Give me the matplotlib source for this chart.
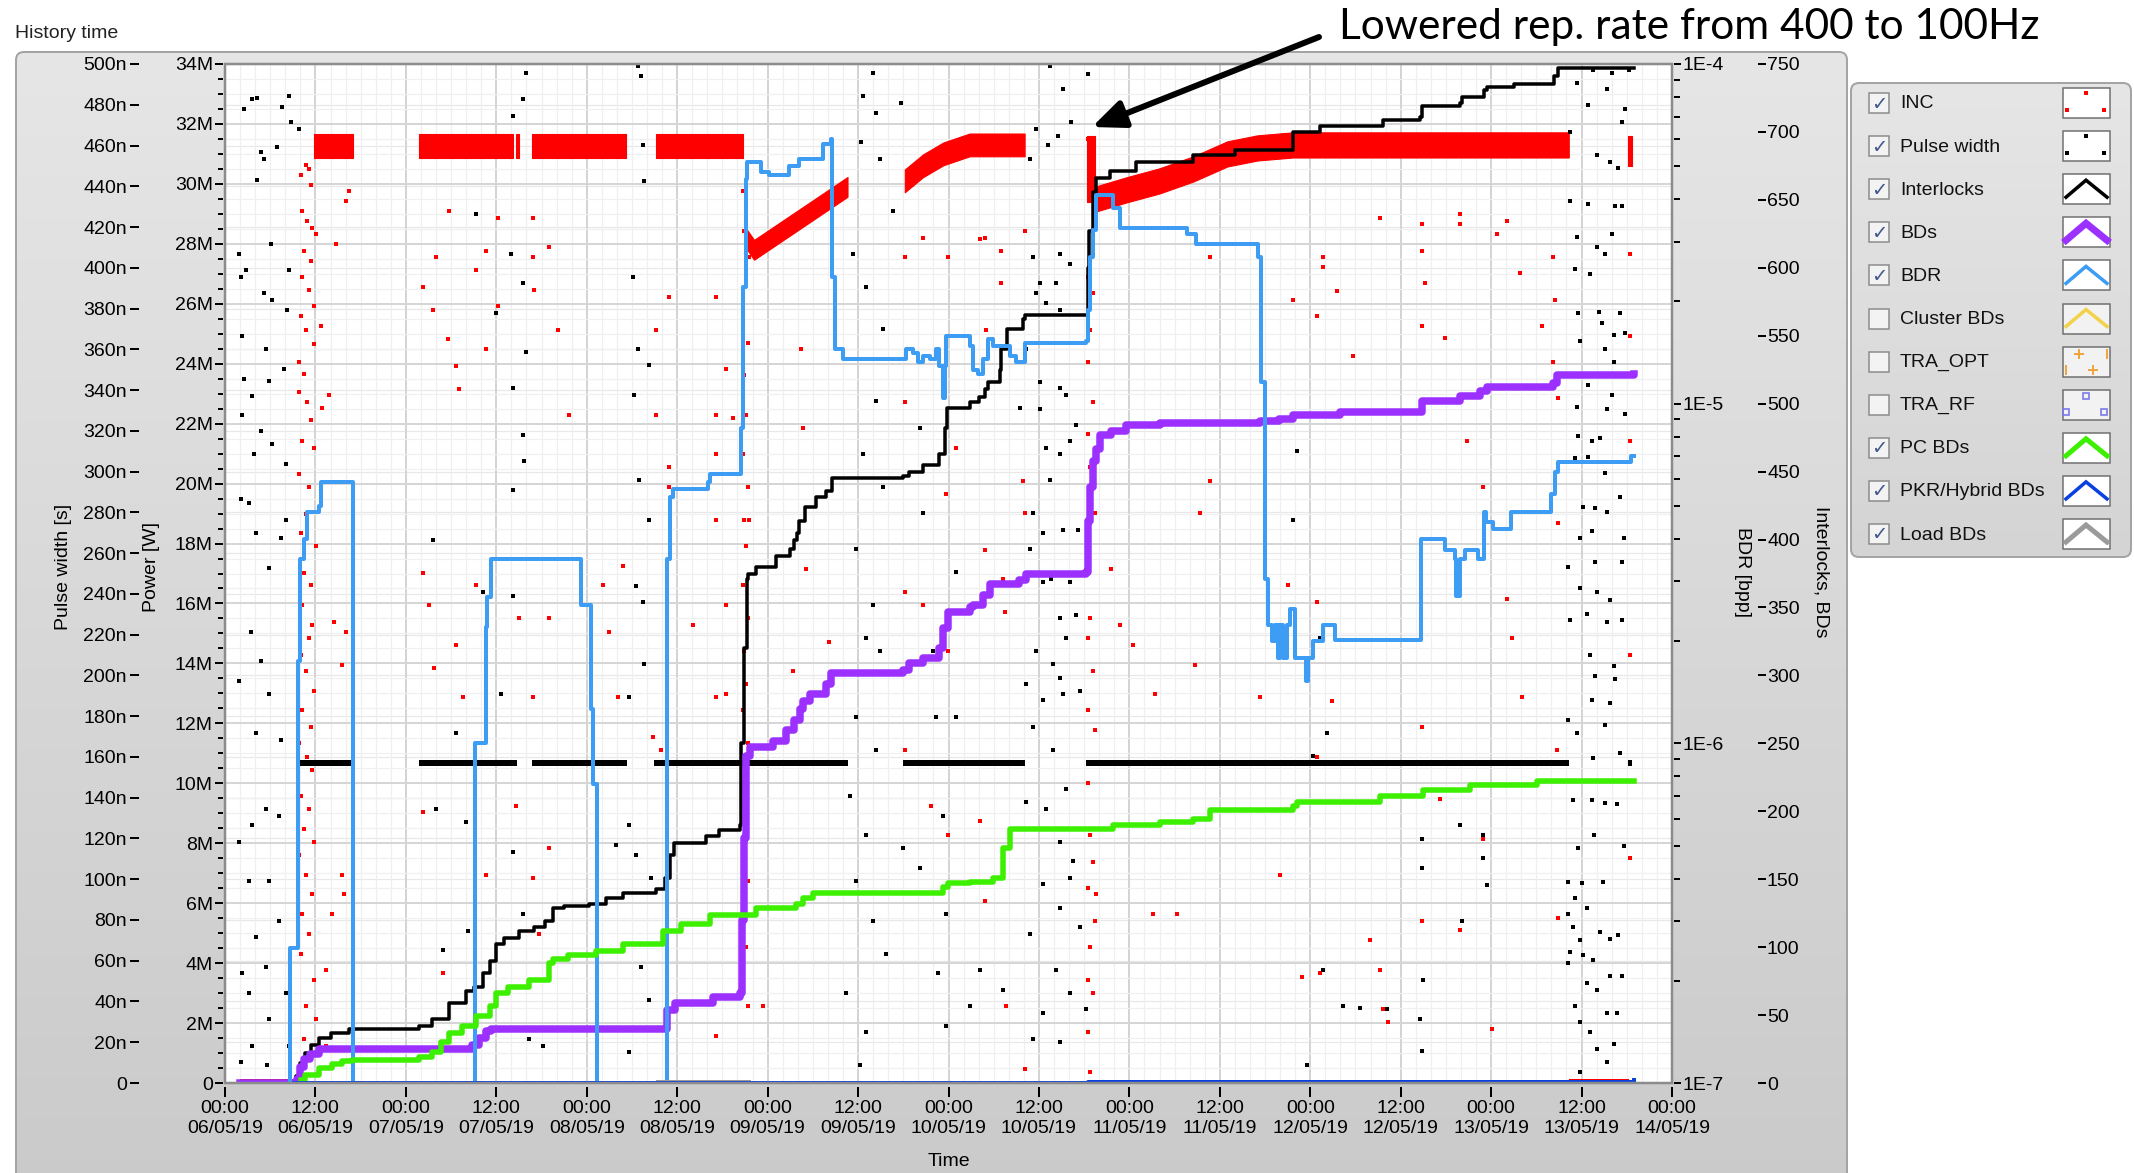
import numpy as np
import matplotlib
matplotlib.use("Agg")
import matplotlib.pyplot as plt
from matplotlib.patches import FancyBboxPatch, Rectangle
from matplotlib.ticker import FixedLocator, FuncFormatter, NullFormatter, LogLocator

plt.rcParams['font.family'] = ['Liberation Sans', 'DejaVu Sans']

# ---------------------------------------------------------------- data
# time axis: hours since 06/05/19 00:00
xtick_hours = list(range(0, 193, 12))
xtick_labels = ['00:00\n06/05/19', '12:00\n06/05/19', '00:00\n07/05/19', '12:00\n07/05/19',
                '00:00\n08/05/19', '12:00\n08/05/19', '00:00\n09/05/19', '12:00\n09/05/19',
                '00:00\n10/05/19', '12:00\n10/05/19', '00:00\n11/05/19', '12:00\n11/05/19',
                '00:00\n12/05/19', '12:00\n12/05/19', '00:00\n13/05/19', '12:00\n13/05/19',
                '00:00\n14/05/19']

# Interlocks (counts, right axis)
interlock_t = [2.0, 9.4, 10.0, 10.6, 11.4, 12.5, 14.0, 16.5, 25.8, 27.5, 29.7, 32.0, 33.1, 34.2, 35.1,
               35.9, 37.0, 39.0, 41.0, 42.5, 43.5, 45.0, 48.3, 50.5, 52.8, 57.2, 58.4, 59.0, 59.6, 63.8,
               65.5, 68.3, 68.5, 68.8, 69.2, 69.4, 70.5, 73.1, 75.0, 75.5, 75.9, 76.2, 76.9, 78.4, 79.8,
               80.6, 89.9, 90.8, 92.6, 94.8, 95.5, 95.8, 98.8, 100.0, 100.8, 101.2, 102.8, 103.0, 103.7,
               105.9, 106.1, 114.5, 114.7, 115.2, 115.6, 117.4, 120.9, 128.5, 134.0, 141.7, 145.3, 153.7,
               158.6, 158.8, 163.9, 164.1, 167.0, 167.4, 171.0, 176.3, 176.9, 186.9]
interlock_n = [0, 5, 15, 22, 28, 33, 37, 40, 42, 47, 59, 68, 71, 81, 90,
               102, 107, 112, 115, 119, 129, 130, 132, 136, 140, 143, 151, 168, 177, 182,
               186, 190, 250, 320, 371, 375, 380, 388, 393, 400, 405, 414, 424, 431, 436,
               445, 447, 450, 455, 463, 482, 497, 501, 505, 511, 516, 525, 540, 555,
               562, 565, 600, 627, 656, 666, 671, 678, 683, 687, 700, 704, 709,
               711, 719, 721, 726, 731, 733, 735, 741, 747, 747]

# BDs (counts, right axis)
bds_t = [2.0, 9.6, 10.0, 10.5, 11.3, 12.5, 32.8, 33.7, 34.6, 35.3, 58.5, 58.7, 59.7, 64.7, 68.3, 68.6,
         68.8, 69.1, 69.6, 72.7, 74.5, 75.5, 76.3, 76.7, 77.6, 79.8, 80.4, 89.9, 90.8, 92.6, 94.8, 95.3,
         95.9, 98.8, 99.3, 100.6, 101.5, 105.4, 106.3, 114.3, 114.5, 114.8, 115.2, 115.6, 116.1, 117.6,
         119.6, 124.0, 137.3, 139.9, 141.7, 147.9, 158.3, 158.8, 163.9, 166.5, 167.4, 176.2, 176.7, 186.9]
bds_n = [0, 3, 12, 18, 21, 25, 28, 33, 38, 40, 40, 54, 59, 63, 66, 120,
         180, 241, 247, 252, 260, 267, 275, 281, 286, 294, 302, 304, 309, 313, 320, 335,
         347, 350, 352, 359, 367, 370, 375, 376, 414, 439, 458, 467, 477, 480,
         484, 486, 487, 489, 492, 494, 494, 502, 506, 509, 512, 515, 521, 522]

# PC BDs (counts, right axis)
pc_t = [10.1, 10.6, 12.5, 14.2, 15.5, 16.9, 25.8, 27.5, 28.6, 29.7, 31.4, 33.3, 35.1, 35.9, 37.5, 40.4,
        43.0, 43.5, 45.5, 49.2, 52.8, 58.1, 60.5, 64.3, 70.5, 75.8, 76.7, 78.0, 92.6, 95.3, 95.9, 98.8,
        101.9, 103.2, 104.1, 117.8, 124.0, 128.5, 130.7, 141.7, 142.2, 153.2, 159.0, 165.2, 174.1, 186.9]
pc_n = [2, 6, 11, 14, 16, 17, 19, 23, 30, 37, 42, 49, 57, 66, 71, 76,
        88, 91, 94, 97, 102, 112, 117, 124, 129, 132, 136, 140, 140, 144, 147, 148,
        151, 173, 187, 190, 192, 194, 201, 204, 207, 211, 216, 219, 222, 222]

# PKR/Hybrid BDs and Load BDs (counts, right axis)
pkr_t = [9.2, 114.5, 181.0, 186.9]
pkr_n = [0, 1, 1, 2]
load_t = [57.5, 69.5]
load_n = [1, 1]

# BDR [bpp] (log axis); 0 = no breakdowns
bdr_t = [2.0, 8.63, 9.74, 10.0, 10.5, 10.9, 12.5, 12.7, 17.0, 33.2, 34.6, 34.8, 35.3, 47.2, 48.6, 48.8,
         49.3, 58.7, 59.0, 59.4, 64.05, 64.3, 68.5, 68.7, 69.1, 69.3, 71.1, 72.2, 74.9, 76.2, 79.3, 80.4,
         80.6, 81.0, 82.0, 90.4, 91.3, 91.9, 92.6, 93.5, 94.4, 94.8, 95.3, 95.5, 95.7, 98.8, 99.3, 99.9,
         100.6, 101.2, 101.9, 104.1, 105.0, 106.1, 114.3, 114.5, 114.75, 115.2, 115.6, 117.8, 118.7,
         127.6, 128.9, 137.1, 137.5, 138.0, 138.4, 138.9, 139.3, 139.76, 139.98, 140.42, 140.86, 141.3,
         142.0, 143.5, 143.7, 144.4, 145.7, 147.3, 158.7, 161.9, 163.2, 163.4, 163.9, 164.5, 166.3,
         167.1, 167.3, 168.3, 170.7, 176.0, 176.5, 176.9, 186.5, 186.9]
bdr_v = [0, 2.5e-7, 1.75e-6, 3.5e-6, 4.0e-6, 4.8e-6, 5.0e-6, 5.9e-6, 0, 1.0e-6, 2.2e-6, 2.7e-6, 3.5e-6,
         2.55e-6, 1.26e-6, 7.6e-7,
         0, 3.5e-6, 5.3e-6, 5.6e-6, 5.9e-6, 6.2e-6, 8.5e-6, 2.2e-5, 4.6e-5, 5.15e-5, 4.8e-5, 4.7e-5,
         5.0e-5, 5.25e-5, 5.8e-5, 6.0e-5,
         2.36e-5, 1.45e-5, 1.35e-5, 1.45e-5, 1.41e-5, 1.33e-5, 1.38e-5, 1.35e-5, 1.45e-5, 1.29e-5,
         1.04e-5, 1.29e-5, 1.58e-5, 1.48e-5, 1.26e-5, 1.22e-5,
         1.35e-5, 1.55e-5, 1.48e-5, 1.38e-5, 1.33e-5, 1.51e-5, 1.53e-5, 1.89e-5, 2.7e-5, 3.24e-5,
         4.11e-5, 3.78e-5, 3.3e-5,
         3.16e-5, 2.95e-5, 2.7e-5, 1.16e-5, 3.05e-6, 2.23e-6, 2.0e-6, 2.23e-6, 1.78e-6, 2.23e-6,
         1.78e-6, 2.23e-6, 2.49e-6,
         1.78e-6, 1.53e-6, 1.78e-6, 2.0e-6, 2.23e-6, 2.02e-6, 4.0e-6, 3.72e-6, 3.49e-6, 2.72e-6,
         3.49e-6, 3.72e-6, 3.49e-6,
         4.79e-6, 4.47e-6, 4.27e-6, 4.79e-6, 5.42e-6, 6.3e-6, 6.73e-6, 7.03e-6, 7.03e-6]

# INC power [MW]: dense bands (time, level, half-spread)
inc_band_t = [[11.8, 17.0], [25.8, 38.2], [38.6, 39.0], [40.8, 53.2], [57.2, 68.7], [69.1, 70.2, 82.6],
              [90.2, 92.6, 95.3, 98.8, 106.1], [114.4, 115.5],
              [115.6, 119.6, 124.0, 128.5, 133.0, 137.0, 141.7, 178.3], [186.2, 186.7]]
inc_band_mw = [[31.25, 31.25], [31.25, 31.25], [31.25, 31.25], [31.25, 31.25], [31.25, 31.25],
               [28.2, 27.8, 29.9], [30.1, 30.6, 31.0, 31.3, 31.3], [30.5, 30.5],
               [29.5, 29.8, 30.1, 30.5, 31.0, 31.2, 31.3, 31.3], [31.1, 31.1]]
inc_band_spread = [0.4, 0.4, 0.4, 0.4, 0.4, 0.33, 0.38, 1.1, 0.42, 0.5]
inc_zero_t = [[2.0, 9.5], [178.3, 186.3]]

# INC scattered samples [h, MW]
inc_dots = [
    (10.05, 30.29), (10.71, 30.62), (11.16, 30.51), (11.38, 29.97), (10.27, 29.09), (10.93, 28.76),
    (11.60, 28.54), (12.04, 28.32), (10.49, 27.77), (11.38, 27.44), (10.27, 26.90), (11.16, 26.46),
    (11.82, 25.91), (10.05, 25.58), (10.80, 25.14), (11.82, 24.66), (9.83, 24.05), (10.49, 23.65),
    (9.83, 23.06), (10.93, 22.73), (11.38, 22.12), (10.27, 21.42), (11.82, 21.20), (9.83, 20.32),
    (11.16, 19.88), (10.71, 19.00), (10.05, 18.35), (12.04, 17.91), (10.49, 17.03), (11.38, 16.60),
    (10.27, 15.94), (11.60, 15.28), (11.16, 14.84), (10.05, 14.29), (10.71, 13.74), (11.82, 13.09),
    (10.27, 12.43), (11.38, 11.88), (9.83, 11.33), (10.93, 10.89), (11.60, 10.46), (10.05, 9.58),
    (11.16, 9.14), (10.49, 8.48), (11.82, 8.04), (9.83, 7.61), (10.71, 6.95), (11.60, 6.29),
    (10.27, 5.63), (11.16, 4.98), (10.05, 4.32), (11.82, 3.44), (10.71, 2.57), (12.04, 2.13),
    (10.49, 1.47), (11.60, 0.92),
    (12.71, 25.25), (12.93, 22.51), (14.70, 27.99), (16.03, 29.42), (13.81, 22.95), (16.47, 29.75),
    (14.26, 5.63), (15.58, 6.95), (13.37, 3.77), (14.48, 15.39), (16.03, 15.06), (15.58, 13.96),
    (15.80, 6.29), (13.37, 1.25),
    (26.21, 26.57), (27.54, 25.80), (29.75, 29.09), (29.53, 24.81), (30.64, 23.94), (31.08, 23.17),
    (27.98, 27.55), (33.29, 27.12), (34.62, 27.77), (36.17, 28.87), (36.17, 25.91), (34.62, 24.49),
    (40.82, 28.87), (40.82, 27.55), (41.04, 26.46), (43.03, 27.88), (44.14, 25.14), (45.69, 22.29),
    (26.21, 17.03), (27.09, 15.94), (30.64, 14.62), (33.29, 16.60), (35.95, 17.47), (39.05, 15.50),
    (43.03, 15.50), (40.82, 12.87), (27.76, 13.86), (31.52, 12.87), (26.21, 9.03), (28.86, 3.66),
    (34.62, 6.95), (38.60, 9.25), (41.70, 4.98), (40.82, 6.84), (43.03, 7.83),
    (68.70, 29.75), (68.93, 28.43), (69.15, 26.90), (68.70, 25.80), (69.37, 24.70), (68.93, 23.61),
    (69.15, 22.29), (68.70, 20.98), (69.37, 19.88), (68.93, 18.79), (69.15, 17.91), (68.70, 16.60),
    (69.37, 15.50), (68.93, 14.40), (69.15, 13.31), (68.70, 12.43), (69.37, 11.33), (68.93, 10.02),
    (69.15, 8.92), (68.70, 7.83), (69.37, 6.73), (68.93, 5.63), (69.15, 4.54), (68.70, 3.44),
    (69.37, 2.57), (69.59, 27.55), (69.59, 18.79),
    (58.96, 26.24), (58.96, 20.54), (58.96, 19.88), (57.19, 25.14), (57.19, 22.29), (65.16, 26.24),
    (65.16, 22.29), (65.16, 20.98), (65.16, 18.79), (65.16, 12.87), (66.49, 23.83), (67.38, 22.18),
    (66.49, 15.94), (66.49, 12.98), (52.77, 17.25), (50.11, 16.60), (50.98, 15.06), (52.10, 12.87),
    (57.86, 11.12), (62.06, 15.28), (56.75, 11.55), (76.45, 24.49), (76.67, 21.85), (75.34, 13.74),
    (80.21, 14.73), (77.12, 17.14), (90.18, 27.55), (90.18, 22.73), (90.18, 16.38), (90.18, 11.12),
    (92.61, 28.21), (95.93, 27.55), (95.71, 19.66), (95.93, 14.40), (95.93, 8.26), (97.04, 21.20),
    (92.61, 15.94), (93.71, 9.25), (65.16, 1.58), (71.36, 2.57),
    (114.52, 31.50), (114.75, 30.84), (115.19, 31.06), (114.52, 26.90), (115.19, 26.35),
    (114.75, 25.14), (114.52, 24.05), (115.19, 22.73), (114.52, 21.64), (114.75, 20.54),
    (115.41, 19.01), (114.52, 17.47), (114.75, 15.50), (114.52, 14.84), (115.19, 13.74),
    (114.52, 12.43), (115.41, 11.77), (114.52, 10.02), (114.75, 8.26), (115.19, 7.39),
    (114.52, 6.51), (115.41, 5.41), (114.75, 4.54), (114.52, 3.44), (115.19, 3.00), (114.52, 1.69),
    (114.75, 0.37), (115.63, 6.29),
    (100.80, 28.21), (100.14, 28.17), (103.01, 27.77), (106.11, 28.43), (103.01, 26.68),
    (101.02, 25.14), (100.80, 17.80), (105.89, 20.10), (106.11, 19.01), (103.23, 16.82),
    (103.45, 15.72), (100.14, 8.74), (100.80, 6.07), (103.68, 2.57), (106.11, 0.48), (117.62, 17.14),
    (118.73, 15.28), (120.50, 14.62), (123.38, 12.98), (126.26, 5.63), (128.69, 13.96),
    (129.35, 19.01), (130.68, 20.10), (130.68, 27.55), (137.32, 12.87), (141.75, 26.13),
    (144.85, 25.58), (144.85, 16.05), (144.85, 10.89), (145.73, 27.55), (141.09, 16.60),
    (145.29, 3.66), (142.86, 3.55), (139.98, 6.95), (123.16, 5.63),
    (145.72, 27.22), (147.49, 26.41), (149.71, 24.27), (153.25, 28.87), (158.78, 28.65),
    (158.78, 27.77), (158.78, 25.25), (159.23, 26.68), (161.88, 24.87), (163.87, 28.98),
    (163.87, 28.65), (164.76, 21.42), (166.97, 19.88), (168.74, 28.32), (170.07, 28.76),
    (170.07, 16.16), (170.74, 14.84), (172.06, 12.87), (171.84, 27.01), (174.72, 25.25),
    (176.27, 27.55), (176.49, 26.13), (176.93, 18.68), (176.93, 22.84), (176.27, 24.05),
    (176.71, 11.12), (176.93, 5.52), (186.45, 27.66), (186.45, 24.92), (186.45, 21.42),
    (186.45, 14.29), (186.45, 7.50), (158.78, 11.88), (158.78, 5.41), (166.97, 8.15), (163.87, 5.09),
    (161.22, 9.47), (168.08, 1.80), (146.83, 12.76), (153.25, 3.77), (151.92, 4.76), (154.36, 2.02),
    (153.69, 2.46)]

# Pulse width [ns]: steady band level, its time segments, and scattered samples
pw_band_ns = 157
pw_band_t = [[9.7, 17.0], [25.8, 38.8], [40.8, 53.4], [56.9, 82.6], [90.0, 106.1], [114.2, 178.3],
             [186.2, 186.7]]
pw_dots = [
    (2.52, 477.8), (3.63, 482.7), (4.29, 483.3), (7.61, 478.8), (8.50, 484.3), (8.72, 471.4),
    (9.83, 468.1), (4.74, 456.9), (5.18, 453.6), (6.95, 459.1), (4.29, 443.0), (1.86, 406.9),
    (2.08, 395.6), (2.74, 398.8), (8.50, 398.8), (6.06, 411.7), (5.18, 387.5), (6.29, 384.3),
    (8.28, 379.5), (2.30, 366.6), (5.40, 360.1), (7.84, 350.5), (2.52, 345.6), (5.84, 344.7),
    (3.63, 336.9), (2.30, 327.9), (4.74, 319.8), (6.29, 313.4), (3.85, 308.6), (8.06, 303.7),
    (2.08, 286.6), (3.19, 284.4), (4.07, 269.9), (7.39, 267.3), (8.06, 276.3), (5.84, 252.8),
    (3.41, 221.5), (4.74, 207.0), (1.86, 197.3), (5.84, 190.9), (4.07, 171.5), (7.39, 168.3),
    (5.40, 134.5), (7.17, 131.2), (3.63, 126.4), (1.86, 118.3), (3.19, 99.0), (5.84, 99.0),
    (4.07, 71.6), (7.17, 79.7), (2.30, 53.9), (5.40, 57.1), (3.19, 44.2), (8.06, 44.2), (5.84, 31.3),
    (3.63, 18.4), (8.50, 18.4), (2.08, 10.3), (5.62, 8.7), (39.49, 482.7), (38.16, 474.6),
    (39.93, 495.6), (33.29, 426.2), (37.94, 406.9), (39.49, 392.4), (35.95, 377.9), (39.93, 358.5),
    (38.16, 340.8), (39.49, 318.2), (39.71, 305.3), (38.16, 290.8), (27.54, 266.6), (34.18, 240.9),
    (38.16, 239.2), (36.61, 190.9), (30.64, 171.5), (27.98, 134.5), (31.96, 128.0), (38.16, 113.5),
    (28.86, 65.1), (32.18, 74.8), (39.49, 82.9), (40.37, 21.6), (42.15, 18.4),
    (54.76, 498.8), (55.20, 493.9), (55.42, 460.1), (55.64, 442.4), (54.10, 395.6), (54.76, 360.1),
    (56.31, 352.1), (54.32, 337.6), (54.98, 295.7), (56.31, 276.3), (54.54, 244.1), (55.42, 236.0),
    (53.65, 189.3), (55.64, 205.4), (54.54, 111.9), (53.65, 126.4), (51.88, 116.7), (56.53, 100.6),
    (55.20, 57.1), (56.31, 40.9), (53.65, 15.2), (84.64, 484.3), (85.97, 495.6), (86.41, 476.2),
    (89.73, 481.0), (86.85, 453.6), (84.42, 461.7), (88.63, 427.8), (83.31, 406.9), (85.08, 390.8),
    (87.30, 369.8), (85.97, 355.3), (86.41, 334.4), (84.64, 308.6), (87.30, 292.4), (83.76, 261.8),
    (85.97, 234.4), (85.08, 218.3), (86.85, 211.8), (83.76, 179.6), (86.41, 163.5), (82.87, 140.9),
    (85.08, 121.6), (83.76, 99.0), (85.97, 79.7), (87.74, 63.5), (82.43, 44.2), (85.08, 24.8),
    (84.20, 8.7), (89.95, 115.1), (92.17, 105.4), (94.60, 53.9), (95.71, 82.9), (95.71, 28.1),
    (95.27, 131.2), (94.38, 179.6), (93.94, 211.8), (97.04, 179.6), (97.04, 250.5), (92.61, 279.5),
    (92.17, 321.5), (90.40, 356.9),
    (109.43, 498.8), (111.20, 487.5), (112.31, 471.4), (114.52, 494.9), (107.66, 468.1),
    (109.21, 460.1), (110.54, 464.9), (106.78, 453.6), (107.22, 405.3), (110.76, 406.9),
    (108.10, 392.4), (110.32, 392.4), (112.09, 402.1), (107.66, 387.5), (108.99, 382.7),
    (110.76, 379.5), (106.33, 360.1), (108.10, 344.0), (110.76, 340.8), (111.65, 337.6),
    (105.45, 331.1), (108.10, 330.5), (112.09, 315.0), (108.99, 311.8), (110.76, 308.6),
    (112.97, 323.1), (109.43, 295.7), (107.22, 279.5), (108.55, 269.9), (111.20, 271.5),
    (113.20, 271.5), (106.78, 261.8), (109.65, 247.3), (108.55, 245.7), (112.09, 245.7),
    (110.76, 228.0), (112.97, 229.6), (111.65, 218.3), (107.66, 211.8), (109.88, 205.4),
    (110.76, 198.9), (106.33, 195.7), (108.55, 187.7), (111.20, 190.9), (113.42, 192.5),
    (107.22, 174.8), (109.88, 163.5), (111.65, 144.1), (108.99, 134.5), (106.33, 137.7),
    (110.76, 118.3), (112.53, 108.7), (108.55, 97.4), (112.09, 100.6), (110.76, 86.1),
    (113.42, 76.4), (106.78, 73.2), (110.32, 55.5), (112.09, 44.2), (108.55, 34.5), (114.30, 36.1),
    (107.22, 21.6), (110.76, 20.0), (103.23, 45.8), (100.14, 55.5), (98.81, 37.7), (144.41, 160.3),
    (146.18, 171.5), (143.52, 8.7), (142.19, 310.2), (141.75, 276.3), (145.29, 218.3),
    (181.58, 497.2), (184.02, 495.6), (186.23, 497.2), (179.37, 490.7), (183.35, 487.5),
    (180.92, 480.1), (185.79, 477.8), (185.34, 471.4), (178.48, 466.5), (182.02, 455.3),
    (183.79, 452.0), (184.90, 448.8), (178.48, 432.7), (180.92, 431.1), (184.46, 430.4),
    (185.34, 430.4), (184.02, 416.6), (179.37, 415.0), (182.02, 410.1), (183.13, 406.9),
    (179.15, 399.5), (181.14, 397.2), (179.59, 377.9), (182.25, 378.5), (185.12, 377.9),
    (179.81, 364.0), (182.69, 373.0), (184.24, 367.2), (185.79, 368.2), (183.13, 360.1),
    (184.24, 353.7), (180.92, 342.4), (179.37, 331.8), (183.35, 330.5), (184.02, 337.6),
    (185.79, 328.5), (179.59, 317.3), (181.36, 315.0), (182.47, 316.6), (179.15, 306.9),
    (180.92, 307.3), (183.13, 299.5), (180.25, 282.8), (181.80, 282.1), (183.35, 280.2),
    (185.12, 287.6), (179.81, 267.6), (181.36, 270.8), (185.57, 267.3), (178.26, 253.1),
    (181.80, 255.4), (185.34, 255.4), (179.81, 243.1), (182.02, 240.9), (183.79, 237.0),
    (178.48, 227.3), (180.70, 230.2), (183.35, 226.3), (185.34, 227.3), (181.14, 210.2),
    (184.24, 204.4), (181.80, 199.9), (184.46, 198.0), (181.36, 187.7), (183.79, 186.7),
    (178.26, 178.0), (179.37, 171.9), (183.13, 175.7), (185.12, 161.9), (181.58, 159.6),
    (178.92, 138.7), (181.36, 138.7), (183.13, 137.4), (184.68, 137.0), (179.59, 115.1),
    (181.67, 121.6), (185.57, 116.1), (178.26, 98.4), (180.03, 98.0), (182.91, 98.4),
    (179.15, 90.9), (180.70, 86.1), (182.47, 73.9), (183.79, 70.6), (184.90, 72.6), (178.26, 82.9),
    (178.92, 76.4), (179.81, 70.0), (178.48, 64.2), (180.25, 62.9), (181.58, 60.3), (183.79, 52.3),
    (185.34, 52.3), (180.70, 49.0), (182.02, 45.8), (183.35, 34.5), (184.68, 34.5), (179.81, 29.7),
    (181.14, 24.8), (182.02, 16.8), (183.35, 10.3), (179.15, 37.7), (178.26, 58.7), (179.81, 5.5),
    (184.24, 19.0), (159.00, 50.6), (148.38, 37.7), (150.59, 36.8), (154.13, 36.5), (158.56, 31.3),
    (166.97, 121.6), (166.97, 110.3), (167.42, 97.1), (163.87, 126.4), (164.09, 79.7),
    (158.78, 119.9), (158.78, 105.4), (158.78, 15.8), (145.63, 55.5)]

# legend
legend_names = ['INC', 'Pulse width', 'Interlocks', 'BDs', 'BDR', 'Cluster BDs', 'TRA_OPT', 'TRA_RF',
                'PC BDs', 'PKR/Hybrid BDs', 'Load BDs']
legend_checked = [True, True, True, True, True, False, False, False, True, True, True]

# ---------------------------------------------------------------- style
C_INC = '#ff0000'
C_PW = '#000000'
C_INT = '#000000'
C_BDS = '#9b30ff'
C_BDR = '#3d9df5'
C_CLU = '#f2d24a'
C_PC = '#3cf000'
C_PKR = '#0a3fe0'
C_LOAD = '#9a9a9a'

W, H = 2134, 1173
PX = 0.72  # points per pixel at dpi=100
fig = plt.figure(figsize=(W / 100, H / 100), dpi=100)
fig.patch.set_facecolor('white')

bg = fig.add_axes([0, 0, 1, 1])
bg.axis('off')


def gradient_box(x, y, w, h, c_top, c_bot, edge, r=8):
    box = FancyBboxPatch((x, y), w, h, boxstyle=f"round,pad=0,rounding_size={r}",
                         fc='none', ec=edge, lw=2 * PX, zorder=2)
    bg.add_patch(box)
    g = np.linspace(0, 1, 256)[:, None, None]
    c1 = np.array(matplotlib.colors.to_rgb(c_top))[None, None, :]
    c2 = np.array(matplotlib.colors.to_rgb(c_bot))[None, None, :]
    img = c1 * (1 - g) + c2 * g
    im = bg.imshow(img, extent=[x, x + w, y + h, y], aspect='auto', zorder=1,
                   interpolation='bilinear')
    im.set_clip_path(box)


gradient_box(16, 52, 1831, 1150, '#e6e6e6', '#cacaca', '#a4a4a4')
gradient_box(1851, 83, 280, 474, '#e6e6e6', '#d4d4d4', '#a4a4a4')
bg.set_xlim(0, W)
bg.set_ylim(H, 0)

# texts on the figure
bg.text(15, 38, 'History time', fontsize=14, ha='left', va='baseline', color='#222222')
bg.text(64, 567, 'Pulse width [s]', rotation=90, fontsize=14, ha='center', va='center')
bg.text(152, 567, 'Power [W]', rotation=90, fontsize=14, ha='center', va='center')
bg.text(1743, 572, 'BDR [bpp]', rotation=270, fontsize=14, ha='center', va='center')
bg.text(1821, 572, 'Interlocks, BDs', rotation=270, fontsize=14, ha='center', va='center')
bg.text(949, 1162, 'Time', fontsize=14, ha='center', va='center')

# legend rows
for i, (name, chk) in enumerate(zip(legend_names, legend_checked)):
    yc = 103 + i * 43.1
    bg.add_patch(Rectangle((1869, yc - 10), 20, 20, fc='#f3f3f3', ec='#8a8a8a', lw=1.5 * PX, zorder=3))
    if chk:
        bg.text(1879.5, yc + 1, '\u2713', ha='center', va='center', fontsize=14, color='#43578c',
                family='DejaVu Sans', fontweight='bold', zorder=4)
    bg.text(1900, yc + 1, name, ha='left', va='center', fontsize=14, color='#111111', zorder=4)
    face = '#ffffff' if name not in ('Cluster BDs', 'TRA_OPT', 'TRA_RF') else '#f2f2f2'
    bg.add_patch(Rectangle((2063, yc - 15), 47, 30, fc=face, ec='#6e6e6e', lw=1.5 * PX, zorder=3))
    chev_x = [2066, 2086, 2107]
    chev_y = [yc + 8, yc - 9, yc + 8]
    if name == 'INC':
        bg.plot([2086, 2067, 2104], [yc - 10, yc + 7, yc + 7], 's', ms=2.2, color=C_INC, mew=0, zorder=4)
    elif name == 'Pulse width':
        bg.plot([2086, 2067, 2104], [yc - 10, yc + 7, yc + 7], 's', ms=2.2, color=C_PW, mew=0, zorder=4)
    elif name == 'TRA_OPT':
        bg.plot([2079, 2093], [yc - 8, yc + 8], '+', ms=7, mew=1.3, color='#f0a030', zorder=4)
        bg.plot([2066, 2107], [yc + 8, yc - 8], '|', ms=7, mew=1.3, color='#f0a030', zorder=4)
    elif name == 'TRA_RF':
        bg.plot([2086, 2104], [yc - 9, yc + 7], 's', ms=5, mfc='none', mew=1.2, color='#7a7ae8', zorder=4)
        bg.plot([2066], [yc + 7], 's', ms=5, mfc='none', mew=1.2, color='#7a7ae8', zorder=4)
    else:
        col, lw = {'Interlocks': (C_INT, 3.5), 'BDs': (C_BDS, 7), 'BDR': (C_BDR, 3.5),
                   'Cluster BDs': (C_CLU, 3.5), 'PC BDs': (C_PC, 5), 'PKR/Hybrid BDs': (C_PKR, 3.5),
                   'Load BDs': (C_LOAD, 5)}[name]
        bg.plot(chev_x, chev_y, color=col, lw=lw * PX, zorder=4, solid_joinstyle='miter')

# ---------------------------------------------------------------- main plot
L, T, R, B = 225, 64, 1672, 1083
ax = fig.add_axes([L / W, 1 - B / H, (R - L) / W, (B - T) / H])
ax.set_facecolor('white')
ax_pw = ax.twinx()
ax_bdr = ax.twinx()
ax_int = ax.twinx()

ax.set_xlim(0, 192)
ax.set_ylim(0, 34)
ax_pw.set_ylim(0, 500)
ax_bdr.set_yscale('log')
ax_bdr.set_ylim(1e-7, 1e-4)
ax_int.set_ylim(0, 750)

for a in (ax, ax_pw, ax_bdr, ax_int):
    for s in a.spines.values():
        s.set_visible(False)

# grid (power axis + pulse-width axis + time)
for hh in range(0, 193, 2):
    major = hh % 12 == 0
    ax.axvline(hh, color='#d4d4d4' if major else '#efefef', lw=(2.0 if major else 1.2) * PX, zorder=0.5)
for k in range(0, 69):
    p = k * 0.5
    major = k % 4 == 0
    ax.axhline(p, color='#d6d6d6' if major else '#f0f0f0', lw=(2.0 if major else 1.2) * PX, zorder=0.5)
for n in range(0, 501, 20):
    ax.axhline(n / 500 * 34, color='#e8e8e8', lw=1.2 * PX, zorder=0.45)

# INC
for ts, ms, hw in zip(inc_band_t, inc_band_mw, inc_band_spread):
    ts = np.array(ts)
    ms = np.array(ms)
    ax.fill_between(ts, ms - hw, ms + hw, color=C_INC, lw=0.8, edgecolor=C_INC, zorder=2)
for ts in inc_zero_t:
    ax.plot(ts, [0.08, 0.08], color=C_INC, lw=4 * PX, zorder=2, solid_capstyle='butt')
it, im_ = zip(*inc_dots)
ax.plot(it, im_, 's', ms=2.3, mew=0, color=C_INC, zorder=2)

# Pulse width
for ts in pw_band_t:
    ax.plot(ts, [pw_band_ns, pw_band_ns], color=C_PW, lw=6 * PX, solid_capstyle='butt',
            transform=ax_pw.transData, zorder=3)
pt, pn = zip(*pw_dots)
ax.plot(pt, pn, 's', ms=2.3, mew=0, color=C_PW, transform=ax_pw.transData, zorder=3)

# Interlocks, BDs
ax.step(interlock_t, interlock_n, where='post', color=C_INT, lw=3.5 * PX,
        transform=ax_int.transData, zorder=4)
ax.step(bds_t, bds_n, where='post', color=C_BDS, lw=7.5 * PX,
        transform=ax_int.transData, zorder=5)

# BDR (values of 0 are below the log range -> drawn off the bottom)
bdr_plot = np.where(np.array(bdr_v) > 0, np.array(bdr_v), 1e-9)
ax.step(bdr_t, bdr_plot, where='post', color=C_BDR, lw=4 * PX,
        transform=ax_bdr.transData, zorder=6)

ax.step(pc_t, pc_n, where='post', color=C_PC, lw=5.5 * PX, transform=ax_int.transData, zorder=7)
ax.step(load_t, load_n, where='post', color=C_LOAD, lw=4 * PX, transform=ax_int.transData, zorder=7.5)
ax.step(pkr_t, pkr_n, where='post', color=C_PKR, lw=4 * PX, transform=ax_int.transData, zorder=8)

ax.set_xlim(0, 192)
ax.set_ylim(0, 34)
ax_pw.set_ylim(0, 500)
ax_bdr.set_ylim(1e-7, 1e-4)
ax_int.set_ylim(0, 750)

# plot border
ax.add_patch(Rectangle((0, 0), 1, 1, transform=ax.transAxes, fill=False, ec='#8c8c8c',
                       lw=2.5 * PX, zorder=20, clip_on=False))

# ---- x axis
ax.spines['bottom'].set_position(('outward', 4 * PX))
ax.set_xticks(xtick_hours)
ax.set_xticklabels(xtick_labels)
ax.set_xticks([], minor=True)
ax.tick_params(axis='x', which='major', direction='out', length=10 * PX, width=2 * PX,
               pad=3 * PX, labelsize=14, colors='black')

# ---- power axis (host, left)
ax.yaxis.set_ticks_position('left')
ax.spines['left'].set_position(('outward', 2 * PX))
ax.yaxis.set_major_locator(FixedLocator(np.arange(0, 34.1, 2)))
ax.yaxis.set_minor_locator(FixedLocator(np.arange(0, 34.01, 0.5)))
ax.yaxis.set_major_formatter(FuncFormatter(lambda v, p: '0' if v == 0 else f'{v:g}M'))
ax.yaxis.set_minor_formatter(NullFormatter())
ax.tick_params(axis='y', which='major', direction='out', length=8 * PX, width=2 * PX,
               pad=2 * PX, labelsize=14)
ax.tick_params(axis='y', which='minor', direction='out', length=5.5 * PX, width=2 * PX)

# ---- pulse width axis (far left)
ax_pw.yaxis.set_ticks_position('left')
ax_pw.spines['left'].set_position(('outward', 86 * PX))
ax_pw.yaxis.set_major_locator(FixedLocator(np.arange(0, 501, 20)))
ax_pw.yaxis.set_minor_locator(FixedLocator([]))
ax_pw.yaxis.set_major_formatter(FuncFormatter(lambda v, p: '0' if v == 0 else f'{v:g}n'))
ax_pw.tick_params(axis='y', which='major', direction='out', length=9 * PX, width=2 * PX,
                  pad=3 * PX, labelsize=14)

# ---- BDR axis (right, log)
ax_bdr.yaxis.set_ticks_position('right')
ax_bdr.spines['right'].set_position(('outward', 2 * PX))
ax_bdr.yaxis.set_major_locator(FixedLocator([1e-7, 1e-6, 1e-5, 1e-4]))
ax_bdr.yaxis.set_minor_locator(LogLocator(base=10, subs=np.arange(2, 10), numticks=20))
ax_bdr.yaxis.set_major_formatter(FuncFormatter(lambda v, p: f'1E{int(round(np.log10(v)))}'))
ax_bdr.yaxis.set_minor_formatter(NullFormatter())
ax_bdr.tick_params(axis='y', which='major', direction='out', length=7 * PX, width=2 * PX,
                   pad=2 * PX, labelsize=14)
ax_bdr.tick_params(axis='y', which='minor', direction='out', length=6 * PX, width=2 * PX)

# ---- Interlocks, BDs axis (far right)
ax_int.yaxis.set_ticks_position('right')
ax_int.spines['right'].set_position(('outward', 86 * PX))
ax_int.yaxis.set_major_locator(FixedLocator(np.arange(0, 751, 50)))
ax_int.yaxis.set_minor_locator(FixedLocator([]))
ax_int.yaxis.set_major_formatter(FuncFormatter(lambda v, p: f'{int(v)}'))
ax_int.tick_params(axis='y', which='major', direction='out', length=8 * PX, width=2 * PX,
                   pad=1 * PX, labelsize=14)

# ---------------------------------------------------------------- overlay: note + arrow
top = fig.add_axes([0, 0, 1, 1], zorder=50)
top.set_xlim(0, W)
top.set_ylim(H, 0)
top.axis('off')
top.patch.set_alpha(0)
top.text(1339, 39, 'Lowered rep. rate from 400 to 100Hz', fontsize=30.5, family='Lato',
         ha='left', va='baseline', color='black')
top.annotate('', xy=(1092, 127), xytext=(1319, 37),
             arrowprops=dict(arrowstyle='-|>,head_length=1.4,head_width=0.6', lw=6 * PX,
                             color='black', shrinkA=0, shrinkB=0, mutation_scale=14))

fig.savefig('out.png', dpi=100, facecolor='white')
